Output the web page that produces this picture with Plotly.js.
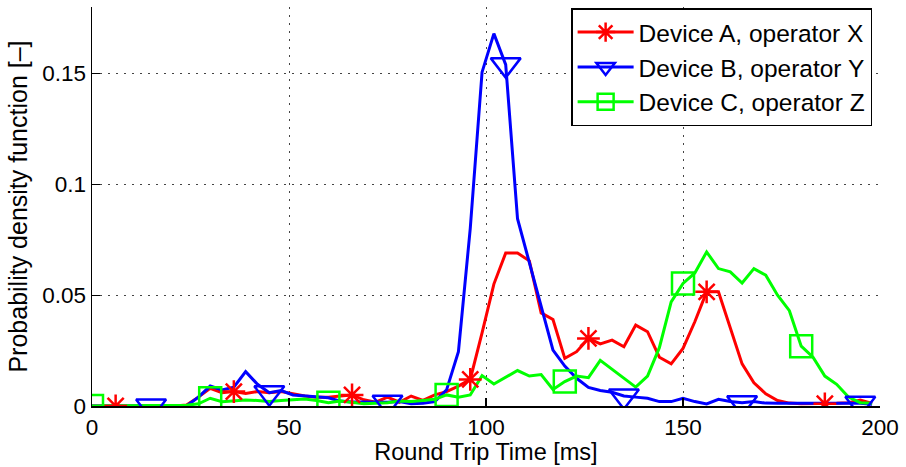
<!DOCTYPE html>
<html><head><meta charset="utf-8">
<script src="https://cdn.plot.ly/plotly-3.0.1.min.js"></script>
<style>body{margin:0;padding:0;background:#fff}</style>
</head><body><div id="chart" style="width:906px;height:467px"></div>
<script>
// Round trip time sample points [ms]
const rttMs = [0,3,6,9,12,15,18,21,24,27,30,33,36,39,42,45,48,51,54,57,60,63,66,69,72,75,78,81,84,87,90,93,96,99,102,105,108,111,114,117,120,123,126,129,132,135,138,141,144,147,150,153,156,159,162,165,168,171,174,177,180,183,186,189,192,195,198];

// Probability density values
const pdfDeviceA = [0,0,0,0,0,0,0,0,0.0005,0.004,0.008,0.006,0.0065,0.0057,0.0065,0.006,0.0065,0.0055,0.0045,0.004,0.004,0.0045,0.005,0.0028,0.0017,0.004,0.0017,0.0045,0.0025,0.005,0.0065,0.009,0.012,0.033,0.055,0.069,0.069,0.0655,0.042,0.039,0.0215,0.0245,0.0305,0.028,0.0297,0.0267,0.0365,0.0335,0.022,0.019,0.026,0.038,0.0515,0.0515,0.035,0.019,0.0105,0.0055,0.0025,0.0013,0.001,0.001,0.001,0.0012,0.0015,0.0027,0.0012];
const pdfDeviceB = [0,0,0,0,0,0,0,0,0,0.004,0.009,0.0072,0.0085,0.0155,0.0098,0.006,0.007,0.005,0.0045,0.004,0.0037,0.0022,0.0018,0.0018,0.0017,0.0017,0.002,0.001,0.0012,0.002,0.0073,0.0245,0.08,0.1506,0.168,0.154,0.0845,0.065,0.045,0.0252,0.018,0.0125,0.0084,0.007,0.0062,0.0045,0.004,0.0035,0.002,0.002,0.0035,0.002,0.0009,0.003,0.002,0.0015,0.002,0.0013,0.0012,0.0012,0.001,0.0012,0.001,0.0012,0.001,0.0012,0.0008];
const pdfDeviceC = [0,0,0,0,0,0,0,0,0.0003,0.001,0.0035,0.0019,0.0022,0.0027,0.0025,0.002,0.0025,0.003,0.0032,0.0025,0.0015,0.0022,0.0015,0.001,0.0012,0.0015,0.0022,0.002,0.0025,0.003,0.005,0.004,0.005,0.0137,0.0099,0.013,0.016,0.0135,0.0142,0.0075,0.011,0.0135,0.0128,0.0206,0.0165,0.0125,0.0085,0.0135,0.0263,0.047,0.0553,0.06,0.0695,0.062,0.0605,0.0555,0.062,0.059,0.05,0.043,0.027,0.022,0.0135,0.0098,0.004,0.0015,0.0012];

// Indices of samples that carry a marker
const markerIdxA = [2,12,22,32,42,52,62];
const markerIdxB = [5,15,25,35,45,55,65];
const markerIdxC = [0,10,20,30,40,50,60];

const seriesNames = ['Device A, operator X','Device B, operator Y','Device C, operator Z'];

const xTicks = [0,50,100,150,200];
const yTicks = [0,0.05,0.1,0.15];
const yTickText = ['0','0.05','0.1','0.15'];

const FONT = 'Liberation Sans, Arial, Helvetica, sans-serif';
const styles = [
  {color:'#ff0000', symbol:'asterisk-open', size:19, mlw:2.5},
  {color:'#0000ff', symbol:'triangle-down-open', size:26, mlw:2.5},
  {color:'#00ff00', symbol:'square-open', size:22, mlw:2.5}
];
const ys = [pdfDeviceA, pdfDeviceB, pdfDeviceC];
const idxs = [markerIdxA, markerIdxB, markerIdxC];

const traces = [];
ys.forEach((y,k)=>{
  traces.push({x:rttMs, y:y, mode:'lines', line:{color:styles[k].color, width:3},
    showlegend:false, hoverinfo:'skip', legendgroup:'g'+k});
});
ys.forEach((y,k)=>{
  const s = styles[k];
  traces.push({x:idxs[k].map(i=>rttMs[i]), y:idxs[k].map(i=>y[i]), mode:'markers',
    marker:{symbol:s.symbol, size:s.size, color:s.color, line:{color:s.color, width:s.mlw}},
    showlegend:false, hoverinfo:'skip', legendgroup:'g'+k});
});
ys.forEach((y,k)=>{
  const s = styles[k];
  traces.push({x:[null], y:[null], mode:'lines+markers', name:seriesNames[k],
    line:{color:s.color, width:3},
    marker:{symbol:s.symbol, size:s.size, color:s.color, line:{color:s.color, width:s.mlw}},
    legendgroup:'g'+k});
});

const layout = {
  width:906, height:467, autosize:false,
  margin:{l:92, r:26, t:7, b:61, pad:0},
  paper_bgcolor:'#fff', plot_bgcolor:'#fff',
  font:{family:FONT, size:22, color:'#000'},
  showlegend:true,
  legend:{x:0.99, xanchor:'right', y:0.997, yanchor:'top',
    bgcolor:'#fff', bordercolor:'#000', borderwidth:1.5,
    font:{family:FONT, size:24.5, color:'#000'}, tracegroupgap:0, itemwidth:56},
  xaxis:{range:[0,200], tickmode:'array', tickvals:xTicks, ticktext:xTicks.map(String),
    ticks:'inside', ticklen:8, tickwidth:1.2, tickcolor:'#000',
    showline:true, linecolor:'#000', linewidth:1.5, mirror:false,
    showgrid:true, gridcolor:'#444', gridwidth:1, griddash:'2px,6px', zeroline:false,
    tickfont:{family:FONT, size:22.5, color:'#000'},
    title:{text:'Round Trip Time [ms]', font:{family:FONT, size:23.5, color:'#000'}, standoff:3}},
  yaxis:{range:[0,0.18], tickmode:'array', tickvals:yTicks, ticktext:yTickText,
    ticks:'inside', ticklen:8, tickwidth:1.2, tickcolor:'#000',
    showline:true, linecolor:'#000', linewidth:1.5, mirror:false,
    showgrid:true, gridcolor:'#444', gridwidth:1, griddash:'2px,6px', zeroline:false,
    tickfont:{family:FONT, size:22.5, color:'#000'},
    title:{text:'Probability density function [–]', font:{family:FONT, size:25, color:'#000'}, standoff:7}}
};

Plotly.newPlot('chart', traces, layout, {displayModeBar:false, staticPlot:true});
</script>
</body></html>
